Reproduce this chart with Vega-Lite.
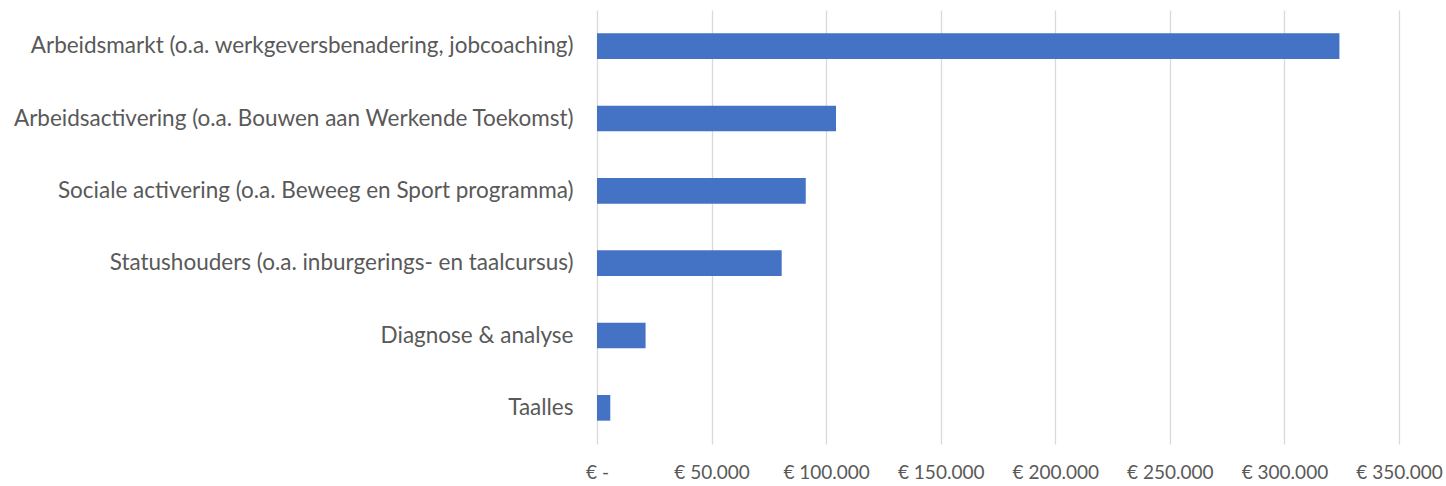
{
  "$schema": "https://vega.github.io/schema/vega-lite/v6.json",
  "width": 802,
  "height": 434,
  "autosize": {"type": "none"},
  "padding": {"left": 597, "top": 10, "right": 47, "bottom": 42},
  "background": "#ffffff",
  "config": {"view": {"stroke": null}, "font": "Lato"},
  "data": {
    "values": [
      {"categorie": "Arbeidsmarkt (o.a. werkgeversbenadering, jobcoaching)", "bedrag": 324000},
      {"categorie": "Arbeidsactivering (o.a. Bouwen aan Werkende Toekomst)", "bedrag": 104300},
      {"categorie": "Sociale activering (o.a. Beweeg en Sport programma)", "bedrag": 91100},
      {"categorie": "Statushouders (o.a. inburgerings- en taalcursus)", "bedrag": 80600},
      {"categorie": "Diagnose & analyse", "bedrag": 21200},
      {"categorie": "Taalles", "bedrag": 5800}
    ]
  },
  "mark": {"type": "bar", "color": "#4472C4"},
  "encoding": {
    "y": {
      "field": "categorie",
      "type": "nominal",
      "sort": null,
      "title": null,
      "scale": {"paddingInner": 0.645, "paddingOuter": 0.3225},
      "axis": {
        "domain": false,
        "ticks": false,
        "tickSize": 0,
        "labelPadding": 24,
        "labelFontSize": 22.5,
        "labelColor": "#595959",
        "labelLimit": 700,
        "labelFont": "Lato"
      }
    },
    "x": {
      "field": "bedrag",
      "type": "quantitative",
      "title": null,
      "scale": {"domain": [0, 350000], "nice": false},
      "axis": {
        "values": [0, 50000, 100000, 150000, 200000, 250000, 300000, 350000],
        "domain": false,
        "ticks": false,
        "tickSize": 0,
        "grid": true,
        "gridColor": "#d9d9d9",
        "gridWidth": 1.3,
        "labelExpr": "datum.value === 0 ? '€ -' : '€ ' + replace(format(datum.value, ','), ',', '.')",
        "labelPadding": 19,
        "labelFontSize": 19,
        "labelColor": "#595959",
        "labelFlush": false,
        "labelFont": "Lato"
      }
    }
  }
}
